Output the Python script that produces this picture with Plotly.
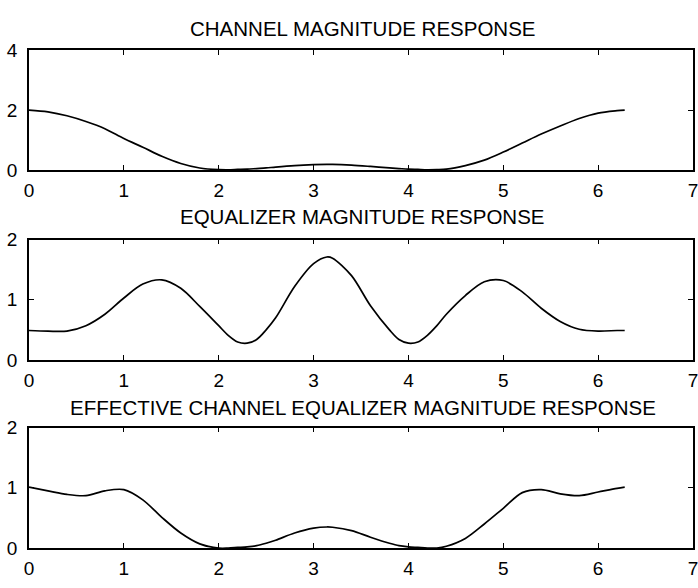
import plotly.graph_objects as go

# Frequency samples (rad/sample), 0 .. 2*pi
w = [0.0, 0.2, 0.4, 0.6, 0.8, 1.0, 1.2, 1.4, 1.6, 1.8, 2.0, 2.1, 2.2, 2.3, 2.4, 2.5,
     2.6, 2.8, 3.0, 3.14, 3.2, 3.4, 3.6, 3.8, 3.9, 4.0, 4.1, 4.2, 4.3, 4.4, 4.6, 4.8,
     5.0, 5.2, 5.4, 5.6, 5.8, 6.0, 6.2, 6.28]

# Channel |C(w)|
channel_mag = [2.0, 1.94, 1.81, 1.62, 1.38, 1.05, 0.76, 0.46, 0.22, 0.07, 0.015, 0.01,
               0.02, 0.03, 0.05, 0.07, 0.10, 0.15, 0.18, 0.19, 0.19, 0.165, 0.12, 0.07,
               0.05, 0.03, 0.02, 0.01, 0.015, 0.03, 0.15, 0.33, 0.60, 0.90, 1.20, 1.47,
               1.72, 1.90, 1.98, 2.0]

# Equalizer |E(w)|
equalizer_mag = [0.49, 0.48, 0.48, 0.57, 0.76, 1.03, 1.26, 1.33, 1.19, 0.89, 0.57, 0.41,
                 0.30, 0.28, 0.34, 0.50, 0.70, 1.22, 1.60, 1.71, 1.69, 1.40, 0.90, 0.50,
                 0.34, 0.28, 0.30, 0.41, 0.57, 0.76, 1.07, 1.30, 1.32, 1.13, 0.86, 0.64,
                 0.51, 0.48, 0.49, 0.49]

# Combined channel * equalizer |C(w)E(w)|
effective_mag = [1.01, 0.95, 0.89, 0.87, 0.95, 0.97, 0.80, 0.51, 0.25, 0.07, 0.0, 0.0,
                 0.01, 0.02, 0.04, 0.08, 0.13, 0.25, 0.33, 0.35, 0.345, 0.29, 0.18, 0.08,
                 0.04, 0.02, 0.01, 0.0, 0.0, 0.03, 0.16, 0.40, 0.66, 0.92, 0.97, 0.90,
                 0.87, 0.93, 0.99, 1.01]

titles = ["CHANNEL MAGNITUDE RESPONSE",
          "EQUALIZER MAGNITUDE RESPONSE",
          "EFFECTIVE CHANNEL EQUALIZER MAGNITUDE RESPONSE"]
y_ranges = [[0, 4], [0, 2], [0, 2]]
y_dticks = [2, 1, 1]

W, H = 698, 588
FONT = "Liberation Sans, Arial, Helvetica, sans-serif"

# vertical pixel extents (top, bottom) of each axes box
boxes = [(41.5, 166), (238, 363), (433, 558)]
title_y = [19, 214, 412]

fig = go.Figure()
series = [channel_mag, equalizer_mag, effective_mag]

for i, ys in enumerate(series):
    n = "" if i == 0 else str(i + 1)
    fig.add_trace(go.Scatter(
        x=w, y=ys, mode="lines",
        line=dict(color="black", width=1.7, shape="spline", smoothing=0.9),
        xaxis="x" + n, yaxis="y" + n, showlegend=False, hoverinfo="skip"))

    top, bot = boxes[i]
    axis_common = dict(showline=True, linecolor="black", linewidth=1.6,
                       mirror="allticks", ticks="inside", ticklen=5,
                       tickwidth=1.3, tickcolor="black", showgrid=False,
                       zeroline=False, fixedrange=True, ticklabeloverflow="allow",
                       tickfont=dict(family=FONT, size=19, color="black"))
    fig.update_layout(**{
        "xaxis" + n: dict(domain=[0, 1], range=[0, 7], dtick=1, tick0=0,
                          anchor="y" + n, ticklabelstandoff=2, **axis_common),
        "yaxis" + n: dict(domain=[1 - bot / H, 1 - top / H], range=y_ranges[i],
                          dtick=y_dticks[i], tick0=0, anchor="x" + n,
                          ticklabelstandoff=6, **axis_common),
    })
    fig.add_annotation(text=titles[i], xref="paper", yref="paper",
                       x=0.503, y=1 - title_y[i] / H, showarrow=False,
                       xanchor="center", yanchor="middle",
                       font=dict(family=FONT, size=20.5, color="black"))

fig.update_layout(width=W, height=H, paper_bgcolor="white", plot_bgcolor="white",
                  margin=dict(l=29, r=2, t=0, b=0))

fig.write_html("out.html")
